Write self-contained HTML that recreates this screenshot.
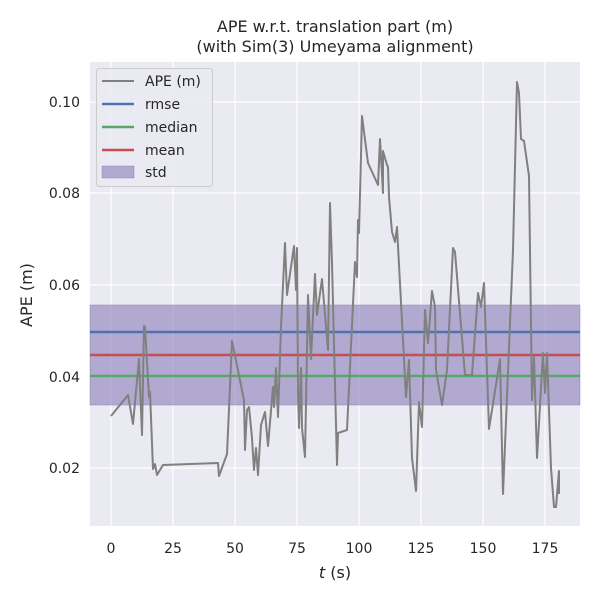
<!DOCTYPE html>
<html><head><style>body{margin:0;background:#fff}svg{display:block}text{font-family:"DejaVu Sans","Liberation Sans",sans-serif;fill:#262626}</style></head>
<body>
<svg width="600" height="600" viewBox="0 0 600 600" xmlns="http://www.w3.org/2000/svg">
<rect x="90" y="62" width="490" height="464" fill="#eaeaf2"/>
<g stroke="#fff" stroke-width="1.2">
<line x1="111" y1="62" x2="111" y2="526"/><line x1="173" y1="62" x2="173" y2="526"/><line x1="235" y1="62" x2="235" y2="526"/><line x1="297" y1="62" x2="297" y2="526"/><line x1="359" y1="62" x2="359" y2="526"/><line x1="421" y1="62" x2="421" y2="526"/><line x1="483" y1="62" x2="483" y2="526"/><line x1="545" y1="62" x2="545" y2="526"/>
<line x1="90" y1="102" x2="580" y2="102"/><line x1="90" y1="193" x2="580" y2="193"/><line x1="90" y1="285" x2="580" y2="285"/><line x1="90" y1="377" x2="580" y2="377"/><line x1="90" y1="468" x2="580" y2="468"/>
</g>
<rect x="90" y="305" width="490" height="100" fill="#8172b3" fill-opacity="0.55" stroke="#8172b3" stroke-opacity="0.4"/>
<line x1="90" y1="332" x2="580" y2="332" stroke="#4c72b0" stroke-width="2.5"/>
<line x1="90" y1="376" x2="580" y2="376" stroke="#55a868" stroke-width="2.5"/>
<line x1="90" y1="355" x2="580" y2="355" stroke="#c44e52" stroke-width="2.5"/>
<polyline fill="none" stroke="#808080" stroke-width="2" stroke-linejoin="round" points="111,416 128,395 133,424 139,359 142,435 144,326 145,327 149,397 150,392 153,469 155,464 157,475 163,465 218,463 219,476 227,454 232,341 244,400 245,450 247,410 249,407 252,438 254,470 256,448 258,475 261,425 265,412 268,446 273,387 274,407 276,368 278,417 281,327 285,243 287,295 294,246 296,290 297,248 298,393 299,428 301,368 302,428 305,457 308,295 311,359 315,274 317,315 322,279 328,350 330,203 332,263 337,465 338,433 347,430 355,262 357,277 358,220 359,233 362,116 368,163 378,185 380,139 383,193 383,151 387,165 388,167 389,197 392,232 395,242 397,227 406,397 409,360 412,458 416,491 419,402 422,427 425,310 428,343 432,291 435,307 436,370 442,405 447,370 453,248 455,252 465,375 472,375 478,293 481,307 484,283 489,429 500,359 503,494 513,250 517,82 519,93 521,139 524,141 529,176 532,400 534,357 537,458 543,353 545,393 547,353 551,468 554,507 556,507 559,471 559,494"/>
<g font-size="14" text-anchor="middle">
<text x="111" y="553">0</text><text x="173" y="553">25</text><text x="235" y="553">50</text><text x="297" y="553">75</text><text x="359" y="553">100</text><text x="421" y="553">125</text><text x="483" y="553">150</text><text x="545" y="553">175</text>
</g>
<g font-size="14" text-anchor="end">
<text x="80" y="107">0.10</text><text x="80" y="198">0.08</text><text x="80" y="290">0.06</text><text x="80" y="382">0.04</text><text x="80" y="473">0.02</text>
</g>
<text x="335" y="578" font-size="16" text-anchor="middle"><tspan font-style="italic">t</tspan> (s)</text>
<text x="32" y="295" font-size="16" text-anchor="middle" transform="rotate(-90 32 295)">APE (m)</text>
<text x="335" y="32" font-size="16" text-anchor="middle">APE w.r.t. translation part (m)</text>
<text x="335" y="52" font-size="16" text-anchor="middle">(with Sim(3) Umeyama alignment)</text>
<rect x="96.5" y="68.5" width="116" height="118" rx="3" fill="#eaeaf2" fill-opacity="0.8" stroke="#ccc"/>
<line x1="102" y1="81" x2="134" y2="81" stroke="#808080" stroke-width="2"/>
<line x1="102" y1="104" x2="134" y2="104" stroke="#4c72b0" stroke-width="2.5"/>
<line x1="102" y1="127" x2="134" y2="127" stroke="#55a868" stroke-width="2.5"/>
<line x1="102" y1="150" x2="134" y2="150" stroke="#c44e52" stroke-width="2.5"/>
<rect x="102" y="166" width="32" height="12" fill="#8172b3" fill-opacity="0.55" stroke="#8172b3" stroke-opacity="0.4"/>
<g font-size="14"><text x="145" y="86">APE (m)</text><text x="145" y="109">rmse</text><text x="145" y="132">median</text><text x="145" y="155">mean</text><text x="145" y="177">std</text></g>
</svg>
</body></html>
